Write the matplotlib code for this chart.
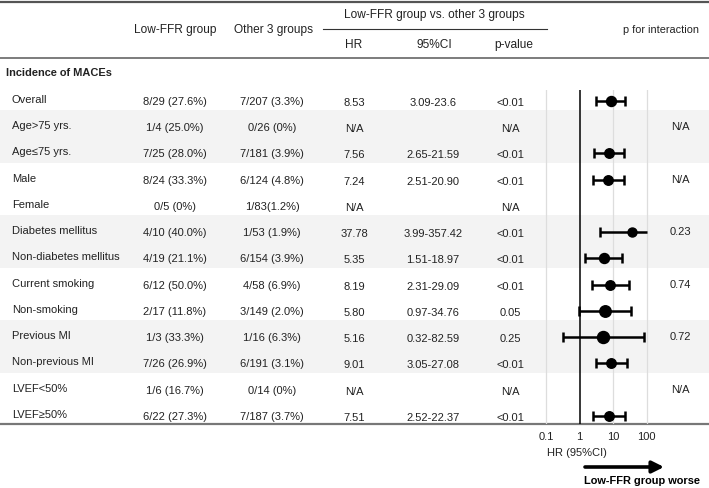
import numpy as np
import matplotlib
matplotlib.use('Agg')
import matplotlib.pyplot as plt

plt.rcParams['font.family'] = ['Liberation Sans', 'DejaVu Sans']

# data
labels = ["Overall", "Age>75 yrs.", "Age≤75 yrs.", "Male", "Female",
          "Diabetes mellitus", "Non-diabetes mellitus", "Current smoking",
          "Non-smoking", "Previous MI", "Non-previous MI", "LVEF<50%", "LVEF≥50%"]
low_ffr = ["8/29 (27.6%)", "1/4 (25.0%)", "7/25 (28.0%)", "8/24 (33.3%)", "0/5 (0%)",
           "4/10 (40.0%)", "4/19 (21.1%)", "6/12 (50.0%)", "2/17 (11.8%)", "1/3 (33.3%)",
           "7/26 (26.9%)", "1/6 (16.7%)", "6/22 (27.3%)"]
other3 = ["7/207 (3.3%)", "0/26 (0%)", "7/181 (3.9%)", "6/124 (4.8%)", "1/83(1.2%)",
          "1/53 (1.9%)", "6/154 (3.9%)", "4/58 (6.9%)", "3/149 (2.0%)", "1/16 (6.3%)",
          "6/191 (3.1%)", "0/14 (0%)", "7/187 (3.7%)"]
hr = [8.53, np.nan, 7.56, 7.24, np.nan, 37.78, 5.35, 8.19, 5.80, 5.16, 9.01, np.nan, 7.51]
ci_lo = [3.09, np.nan, 2.65, 2.51, np.nan, 3.99, 1.51, 2.31, 0.97, 0.32, 3.05, np.nan, 2.52]
ci_hi = [23.6, np.nan, 21.59, 20.90, np.nan, 357.42, 18.97, 29.09, 34.76, 82.59, 27.08, np.nan, 22.37]
ci_txt = ["3.09-23.6", "", "2.65-21.59", "2.51-20.90", "", "3.99-357.42", "1.51-18.97",
          "2.31-29.09", "0.97-34.76", "0.32-82.59", "3.05-27.08", "", "2.52-22.37"]
pval = ["<0.01", "N/A", "<0.01", "<0.01", "N/A", "<0.01", "<0.01", "<0.01", "0.05",
        "0.25", "<0.01", "N/A", "<0.01"]
p_inter = ["", "N/A", "", "N/A", "", "0.23", "", "0.74", "", "0.72", "", "N/A", ""]
marker_px = [10, 0, 9.5, 9.5, 0, 9, 10, 9.5, 11.5, 12, 9.5, 0, 9.5]

W, H = 709, 488
fig = plt.figure(figsize=(W / 100, H / 100), dpi=100)
ax = fig.add_axes([0, 0, 1, 1])
ax.set_xlim(0, W)
ax.set_ylim(H, 0)
ax.axis('off')

fs_h = 8.6   # header
fs = 8.0     # body
tc = '#222222'
row_h = 26.25
ys = [97] + [123.1 + row_h * i for i in range(12)]

# shaded bands (pairs of rows)
for top in [110, 215, 320]:
    ax.axhspan(top, top + 2 * row_h, color='#f3f3f3', zorder=0, lw=0)

# rules
ax.plot([0, W], [1.5, 1.5], color='#555555', lw=1.6)
ax.plot([0, W], [57.5, 57.5], color='#666666', lw=1.2)
ax.plot([323, 547], [29, 29], color='#333333', lw=0.8)
ax.plot([0, W], [424, 424], color='#777777', lw=1.6)

# headers
ax.text(175, 30, "Low-FFR group", ha='center', va='center', fontsize=fs_h, color=tc)
ax.text(273, 30, "Other 3 groups", ha='center', va='center', fontsize=fs_h, color=tc)
ax.text(434, 15, "Low-FFR group vs. other 3 groups", ha='center', va='center', fontsize=fs_h, color=tc)
ax.text(354, 45, "HR", ha='center', va='center', fontsize=fs_h, color=tc)
ax.text(434, 45, "95%CI", ha='center', va='center', fontsize=fs_h, color=tc)
ax.text(514, 45, "p-value", ha='center', va='center', fontsize=fs_h, color=tc)
ax.text(661, 30, "p for interaction", ha='center', va='center', fontsize=7.8, color=tc)
ax.text(6, 73, "Incidence of MACEs", ha='left', va='center', fontsize=7.9,
        fontweight='bold', color=tc)

for i, y in enumerate(ys):
    ax.text(12, y + 3, labels[i], ha='left', va='center', fontsize=fs, color=tc)
    ax.text(175, y + 5, low_ffr[i], ha='center', va='center', fontsize=fs, color=tc)
    ax.text(272, y + 5, other3[i], ha='center', va='center', fontsize=fs, color=tc)
    hr_s = "N/A" if np.isnan(hr[i]) else f"{hr[i]:.2f}"
    ax.text(354, y + 6, hr_s, ha='center', va='center', fontsize=fs, color=tc)
    ax.text(433, y + 6, ci_txt[i], ha='center', va='center', fontsize=fs, color=tc)
    ax.text(510, y + 6, pval[i], ha='center', va='center', fontsize=fs, color=tc)
    if p_inter[i]:
        ax.text(680, y + 4, p_inter[i], ha='center', va='center', fontsize=fs, color=tc)

# bottom annotations
ax.text(577, 453, "HR (95%CI)", ha='center', va='center', fontsize=fs, color=tc)
ax.annotate("", xy=(664, 467), xytext=(585, 467),
            arrowprops=dict(arrowstyle='-|>,head_length=0.7,head_width=0.35',
                            color='black', lw=2.6, shrinkA=0, shrinkB=0))
ax.text(642, 481, "Low-FFR group worse", ha='center', va='center', fontsize=7.9,
        fontweight='bold', color='black')

# forest plot axis
x0, x1, ytop, ybot = 538, 653, 90, 424
fx = fig.add_axes([x0 / W, (H - ybot) / H, (x1 - x0) / W, (ybot - ytop) / H])
fx.set_facecolor('none')
fx.set_xscale('log')
fx.set_xlim(10 ** ((x0 - 579.5) / 33.5), 10 ** ((x1 - 579.5) / 33.5))
fx.set_ylim(ybot, ytop)
for s in fx.spines.values():
    s.set_visible(False)
fx.set_yticks([])
fx.set_xticks([0.1, 1, 10, 100])
fx.set_xticklabels(["0.1", "1", "10", "100"])
fx.minorticks_off()
fx.tick_params(axis='x', length=0, pad=6, labelsize=fs, labelcolor=tc)
for g in [0.1, 10, 100]:
    fx.axvline(g, color='#dddddd', lw=0.9, zorder=1)
fx.axvline(1, color='black', lw=1.1, zorder=2)

clip = 100
for i, y in enumerate(ys):
    if np.isnan(hr[i]):
        continue
    yy = y + 4
    hi = min(ci_hi[i], clip)
    fx.plot([ci_lo[i], hi], [yy, yy], color='black', lw=1.8, zorder=3,
            solid_capstyle='butt')
    fx.plot([ci_lo[i]], [yy], marker='|', ms=6.5, mew=1.8, color='black', zorder=3)
    if ci_hi[i] <= clip:
        fx.plot([ci_hi[i]], [yy], marker='|', ms=6.5, mew=1.8, color='black', zorder=3)
    fx.plot([hr[i]], [yy], marker='o', ms=marker_px[i] * 0.72, color='black', zorder=4)

fig.savefig('out.png', dpi=100)
